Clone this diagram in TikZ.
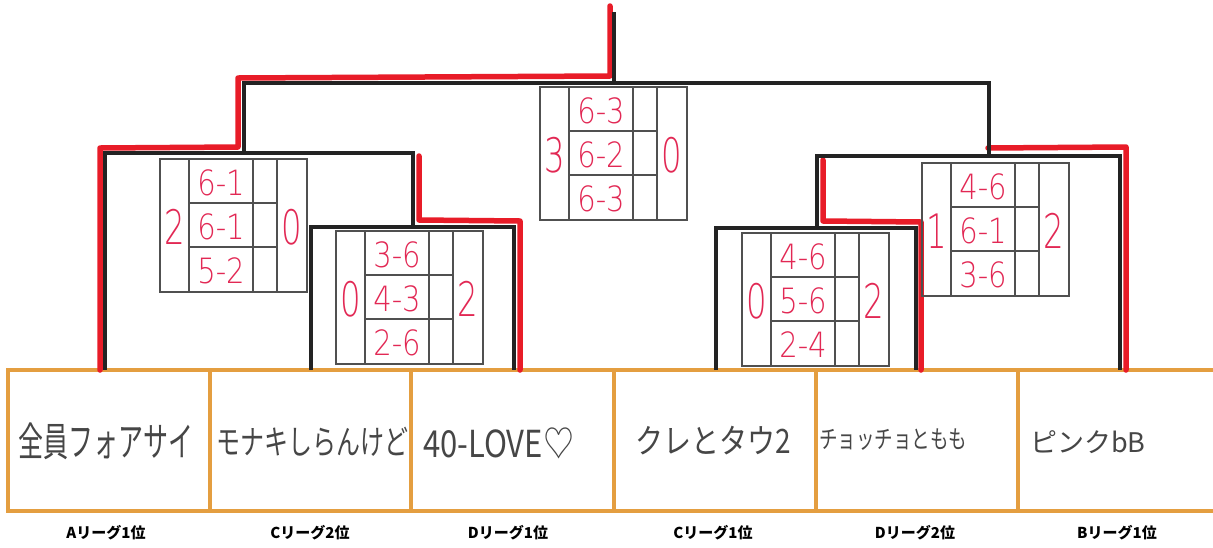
\documentclass[tikz,border=0pt]{standalone}
\usepackage{fontspec}
\newfontfamily\jp{Noto Sans CJK JP}
\newfontfamily\pen{DejaVu Sans ExtraLight}
\usetikzlibrary{calc}

\definecolor{frameorange}{RGB}{228,158,64}
\definecolor{winred}{RGB}{232,28,40}
\definecolor{inkred}{RGB}{226,40,84}
\definecolor{inkgray}{RGB}{70,70,70}
\definecolor{bracketblack}{RGB}{35,35,35}
\definecolor{sheetgray}{RGB}{80,80,80}

\tikzset{
  bracket/.style={line width=4pt, draw=bracketblack, line join=miter},
  win/.style={line width=5.5pt, draw=winred, line join=round, line cap=round},
  frame/.style={line width=3.5pt, draw=frameorange},
  sheet/.style={line width=1.1pt, draw=sheetgray},
  team/.style={anchor=west, inner sep=0pt, text=inkgray},
  place/.style={inner sep=0pt, font=\jp\bfseries\fontsize{15}{15}\selectfont},
  bignum/.style={inner sep=0pt, text=inkred, font=\pen\fontsize{38}{38}\selectfont},
  setnum/.style={inner sep=0pt, text=inkred, font=\pen\fontsize{29}{29}\selectfont}
}

% one score sheet: name, x, y, left, right, set 1, set 2, set 3
\newcommand{\scoresheet}[8]{%
  \begin{scope}[shift={(#2,#3)}]
    \draw[sheet] (0,0) rectangle (147,133);
    \draw[sheet] (29,0) -- (29,133) (93,0) -- (93,133) (117,0) -- (117,133);
    \draw[sheet] (29,44) -- (117,44) (29,88) -- (117,88);
    \node[bignum] (#1-l) at (14.5,68) {\scalebox{0.85}[1.25]{#4}};
    \node[bignum] (#1-r) at (132,68) {\scalebox{0.85}[1.25]{#5}};
    \node[setnum] (#1-a) at (61,24) {\scalebox{1}[1.2]{#6}};
    \node[setnum] (#1-b) at (61,68) {\scalebox{1}[1.2]{#7}};
    \node[setnum] (#1-c) at (61,112) {\scalebox{1}[1.2]{#8}};
  \end{scope}}

\begin{document}
\begin{tikzpicture}[x=1pt, y=-1pt]
    \useasboundingbox[fill=white] (0,0) rectangle (1213,547);

    % team boxes
        \draw[frame] (8,370) rectangle (1230,511);
        \foreach \xx in {210, 411, 614, 816, 1018}
            \draw[frame] (\xx,370) -- (\xx,511);

        \node[team, font=\jp\fontsize{25}{25}\selectfont] (n1) at (18,441) {\scalebox{1}[1.6]{全員フォアサイ}};
        \node[team, font=\jp\fontsize{24}{24}\selectfont] (n2) at (216,442) {\scalebox{1}[1.4]{モナキしらんけど}};
        \node[team, font=\jp\fontsize{31}{31}\selectfont] (n3) at (423,443) {\scalebox{1}[1.2]{40-LOVE♡}};
        \node[team, font=\jp\fontsize{28}{28}\selectfont] (n4) at (635,441) {\scalebox{1}[1.2]{クレとタウ2}};
        \node[team, font=\jp\fontsize{18.5}{18.5}\selectfont] (n5) at (819,440) {\scalebox{1}[1.35]{チョッチョともも}};
        \node[team, font=\jp\fontsize{27}{27}\selectfont] (n6) at (1030,442) {ピンクbB};

        \node[place] (p1) at (106,533) {Aリーグ1位};
        \node[place] (p2) at (310,533) {Cリーグ2位};
        \node[place] (p3) at (508,533) {Dリーグ1位};
        \node[place] (p4) at (713,533) {Cリーグ1位};
        \node[place] (p5) at (915,533) {Dリーグ2位};
        \node[place] (p6) at (1117,533) {Bリーグ1位};

    % winners in red
        \draw[win] (610,6) -- (610,76) -- (238,78) -- (238,147) -- (100,148) -- (100,370);
        \draw[win] (419,156) -- (419,220) -- (520,221) -- (520,370);
        \draw[win] (823,160) -- (823,221) -- (921,222) -- (921,370);
        \draw[win] (988,148) -- (1126,147) -- (1126,370);

    % the bracket
        \coordinate (e1) at (105,370);
        \coordinate (e2) at (311,370);
        \coordinate (e3) at (514,370);
        \coordinate (e4) at (716,370);
        \coordinate (e5) at (916,370);
        \coordinate (e6) at (1120,370);
        \coordinate (qL) at (413,227);
        \coordinate (qR) at (817,228);
        \coordinate (sL) at (244,153);
        \coordinate (sR) at (989,156);
        \coordinate (f) at (614,83);
        \coordinate (top) at (614,12);
        \draw[bracket] (e2) |- (qL) -| (e3);
        \draw[bracket] (e4) |- (qR) -| (e5);
        \draw[bracket] (e1) |- (sL) -| (qL);
        \draw[bracket] (qR) |- (sR) -| (e6);
        \draw[bracket] (sL) |- (f) -| (sR);
        \draw[bracket] (f) -- (top);

    % score sheets
        \scoresheet{fin}{540}{87}{3}{0}{6-3}{6-2}{6-3}
        \scoresheet{sfl}{160}{159}{2}{0}{6-1}{6-1}{5-2}
        \scoresheet{qfl}{336}{231}{0}{2}{3-6}{4-3}{2-6}
        \scoresheet{qfr}{742}{233}{0}{2}{4-6}{5-6}{2-4}
        \scoresheet{sfr}{922}{163}{1}{2}{4-6}{6-1}{3-6}
\end{tikzpicture}
\end{document}
